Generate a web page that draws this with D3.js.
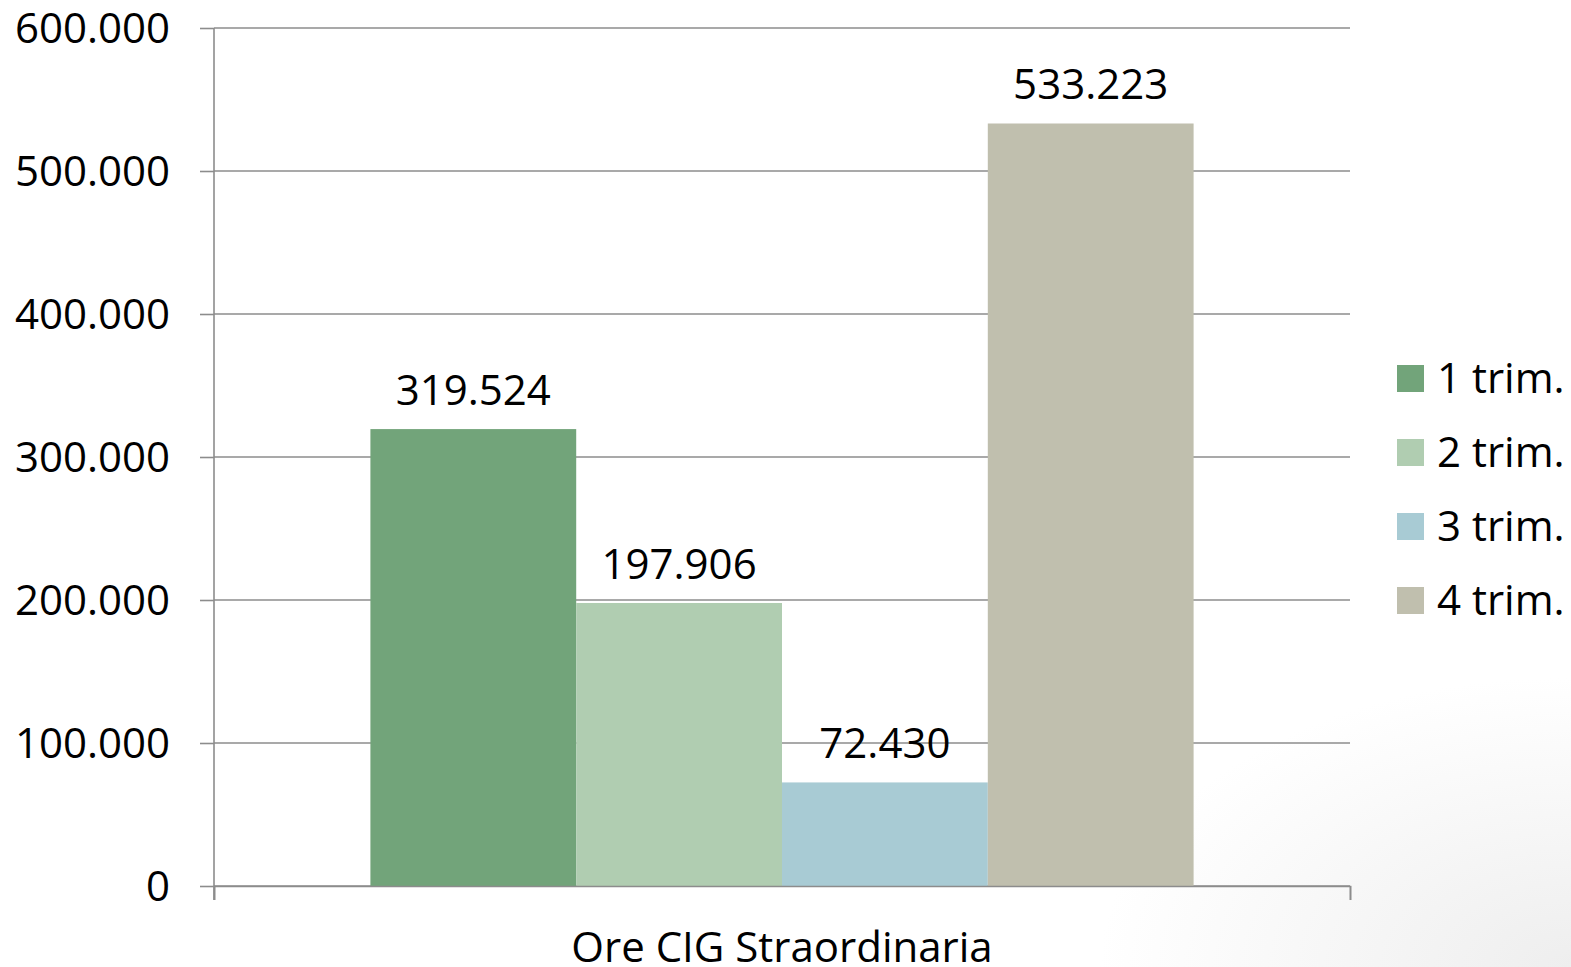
<!DOCTYPE html>
<html>

<head>
  <meta charset="utf-8">
  <title>Ore CIG Straordinaria</title>
  <script type="text/javascript" src="https://cdn.jsdelivr.net/npm/d3@7"></script>
  <style type="text/css">
    body { margin: 0; background: #fff; }
    text { font-family: "Open Sans", sans-serif; fill: #000; }
  </style>
</head>

<body>
  <script type="text/javascript">

    // Data
    const categories = ["Ore CIG Straordinaria"];
    const seriesNames = ["1 trim.", "2 trim.", "3 trim.", "4 trim."];
    const seriesValues = [319524, 197906, 72430, 533223];
    const seriesColors = ["#72a47a", "#b0cdb1", "#a8cbd4", "#c0bfae"];
    const yTicks = [0, 100000, 200000, 300000, 400000, 500000, 600000];

    // Width and height
    const w = 1571;
    const h = 967;
    const margin = { top: 28, right: 221, bottom: 81, left: 214 };
    const innerW = w - margin.left - margin.right;
    const innerH = h - margin.top - margin.bottom;

    // Italian number format: 533.223
    const locale = d3.formatLocale({ decimal: ",", thousands: ".", grouping: [3], currency: ["€", ""] });
    const fmt = locale.format(",.0f");

    const svg = d3.select("body")
      .append("svg")
      .attr("width", w)
      .attr("height", h);

    // soft grey corner like the slide background
    const grad = svg.append("defs").append("radialGradient")
      .attr("id", "corner")
      .attr("cx", 1).attr("cy", 1).attr("r", 0.3);
    grad.append("stop").attr("offset", "0%").attr("stop-color", "#eeeeee");
    grad.append("stop").attr("offset", "100%").attr("stop-color", "#ffffff");
    svg.append("rect").attr("width", w).attr("height", h).attr("fill", "url(#corner)");

    const g = svg.append("g")
      .attr("transform", "translate(" + margin.left + "," + margin.top + ")");

    // Scales
    const y = d3.scaleLinear().domain([0, 600000]).range([innerH, 0]);
    const x0 = d3.scaleBand().domain(categories).range([0, innerW]).paddingOuter(0.19);
    const x1 = d3.scaleBand().domain(seriesNames).range([0, x0.bandwidth()]);

    // Gridlines
    g.append("g")
      .selectAll("line")
      .data(yTicks)
      .enter()
      .append("line")
      .attr("x1", 0)
      .attr("x2", innerW)
      .attr("y1", d => y(d))
      .attr("y2", d => y(d))
      .attr("stroke", "#8c8c8c")
      .attr("stroke-width", 1.6);

    // Y axis
    const yAxis = g.append("g")
      .call(d3.axisLeft(y).tickValues(yTicks).tickSize(14).tickPadding(30).tickFormat(fmt));
    yAxis.selectAll("text").attr("font-size", 42).attr("dy", "0.35em");
    yAxis.selectAll("line, path").attr("stroke", "#8c8c8c").attr("stroke-width", 1.6);
    yAxis.select(".domain").attr("d", "M0," + (innerH + 14) + "V0");

    // Bars
    const cat = g.selectAll(".cat")
      .data(categories)
      .enter()
      .append("g")
      .attr("transform", d => "translate(" + x0(d) + ",0)");

    cat.selectAll("rect")
      .data(seriesNames)
      .enter()
      .append("rect")
      .attr("x", d => x1(d))
      .attr("width", x1.bandwidth())
      .attr("y", (d, i) => y(seriesValues[i]))
      .attr("height", (d, i) => innerH - y(seriesValues[i]))
      .attr("fill", (d, i) => seriesColors[i]);

    cat.selectAll(".val")
      .data(seriesNames)
      .enter()
      .append("text")
      .attr("class", "val")
      .attr("x", d => x1(d) + x1.bandwidth() / 2)
      .attr("y", (d, i) => y(seriesValues[i]) - 24)
      .attr("text-anchor", "middle")
      .attr("font-size", 42)
      .text((d, i) => fmt(seriesValues[i]));

    // X axis: line with end ticks
    const xs = d3.scaleLinear().domain([0, 1]).range([0, innerW]);
    const xAxis = g.append("g")
      .attr("transform", "translate(0," + innerH + ")")
      .call(d3.axisBottom(xs).tickValues([0, 1]).tickSize(14).tickFormat(""));
    xAxis.selectAll("line, path").attr("stroke", "#8c8c8c").attr("stroke-width", 1.6);

    g.append("text")
      .attr("x", x0(categories[0]) + x0.bandwidth() / 2)
      .attr("y", innerH + 76)
      .attr("text-anchor", "middle")
      .attr("font-size", 42)
      .text(categories[0]);

    // Legend
    const legend = svg.append("g")
      .attr("transform", "translate(1397,378)");
    const item = legend.selectAll(".item")
      .data(seriesNames)
      .enter()
      .append("g")
      .attr("transform", (d, i) => "translate(0," + i * 74 + ")");
    item.append("rect")
      .attr("y", -13)
      .attr("width", 27)
      .attr("height", 27)
      .attr("fill", (d, i) => seriesColors[i]);
    item.append("text")
      .attr("x", 40)
      .attr("dy", "0.35em")
      .attr("font-size", 42)
      .text(d => d);

  </script>
</body>

</html>
